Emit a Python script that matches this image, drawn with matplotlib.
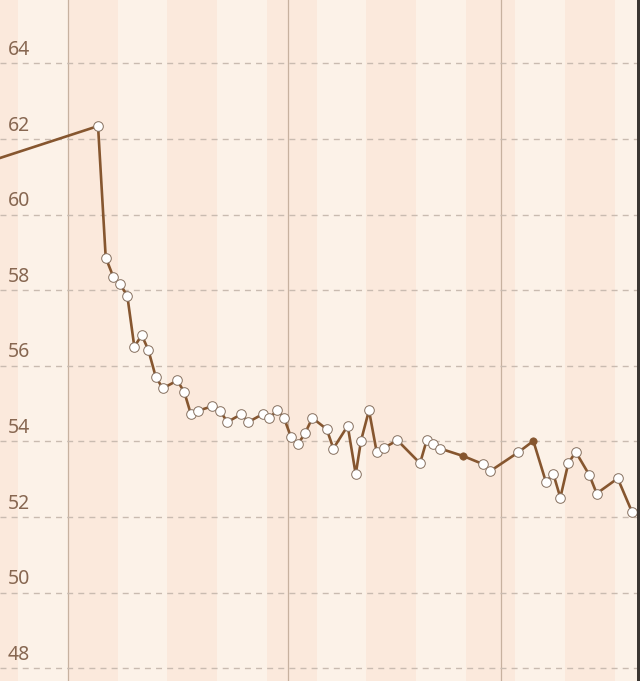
import matplotlib
matplotlib.use("Agg")
from matplotlib import pyplot as plt
from matplotlib.patches import Rectangle

# day offsets (0 = first month line), fractional = time of day
days = [-13.6, 4.23, 5.31, 6.38, 7.32, 8.35, 9.34, 10.38, 11.31, 12.35, 13.34,
        15.39, 16.38, 17.32, 18.35, 20.32, 21.41, 22.44, 24.41, 25.39, 27.42,
        28.35, 29.48, 30.42, 31.41, 32.35, 33.38, 34.41, 36.44, 37.37, 39.39,
        40.52, 41.27, 42.39, 43.48, 44.55, 46.38, 49.58, 50.52, 51.45, 52.39,
        55.68, 58.41, 59.44, 63.42, 65.54, 67.32, 68.35, 69.34, 70.46, 71.51,
        73.42, 74.46, 77.42, 79.44]
weights = [61.25, 62.34, 58.86, 58.35, 58.16, 57.85, 56.50, 56.81, 56.42, 55.71, 55.40,
           55.61, 55.30, 54.71, 54.81, 54.93, 54.81, 54.51, 54.72, 54.51, 54.72,
           54.61, 54.83, 54.62, 54.11, 53.92, 54.21, 54.62, 54.32, 53.81, 54.41,
           53.13, 54.02, 54.82, 53.71, 53.83, 54.03, 53.42, 54.03, 53.92, 53.81,
           53.61, 53.40, 53.21, 53.71, 54.01, 52.92, 53.14, 52.51, 53.42, 53.72,
           53.11, 52.62, 53.02, 52.13]
# entries shown with a solid dot
manual = [55.68, 65.54]

month_starts = [0, 31, 61]
y_ticks = [48, 50, 52, 54, 56, 58, 60, 62, 64]

brown = "#86562f"
label_col = "#876751"

fig = plt.figure(figsize=(6.4, 6.81), dpi=100)
fig.patch.set_facecolor("#fcf2e8")
ax = fig.add_axes([0, 0, 1, 1])
ax.set_facecolor("#fcf2e8")
ax.set_xlim(-9.58, 80.56)
ax.set_ylim(47.66, 65.675)
ax.axis("off")

# weekly stripes
for start in range(-14, 84, 14):
    ax.axvspan(start, start + 7, color="#fbe9dc", lw=0, zorder=0)

for m in month_starts:
    ax.axvline(m, color="#c7b19f", lw=0.9, zorder=1)

for t in y_ticks:
    ax.axhline(t, color="#c9bbb0", lw=1.0, ls=(0, (4.3, 3.7)), zorder=1)
    ax.annotate(str(t), xy=(0.0125, t), xycoords=("axes fraction", "data"),
                xytext=(0, 9.6), textcoords="offset points", va="center", ha="left",
                fontsize=14, color=label_col, family="Noto Sans")

ax.plot(days, weights, color=brown, lw=1.9, zorder=3, solid_joinstyle="round")

open_x = [d for d in days[1:] if d not in manual]
open_y = [w for d, w in zip(days[1:], weights[1:]) if d not in manual]
ax.scatter(open_x, open_y, s=48, facecolor="white", edgecolor="#86705f", lw=0.7, zorder=4)
fill_y = [w for d, w in zip(days, weights) if d in manual]
ax.scatter(manual, fill_y, s=28, facecolor=brown, edgecolor=brown, lw=0.5, zorder=4)

# dark border at right edge
fig.add_artist(Rectangle((637 / 640, 0), 3 / 640, 1, transform=fig.transFigure,
                         color="#3b3632", lw=0))

fig.savefig("out.png", dpi=100)
